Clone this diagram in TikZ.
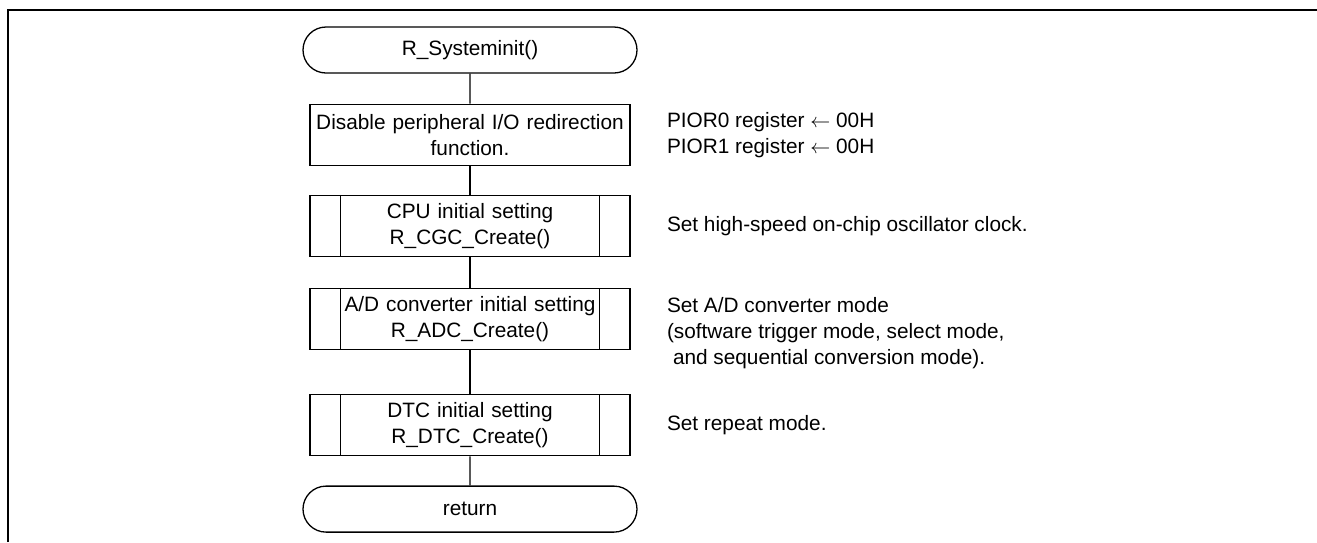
\documentclass[tikz,border=0pt]{standalone}
\usepackage{fontspec}
\setmainfont{Liberation Sans}
\usepackage{tikz}
\usetikzlibrary{calc}
\usetikzlibrary{positioning,shapes.misc}

\begin{document}
\begin{tikzpicture}[
    font=\fontsize{10.4pt}{13pt}\selectfont,
    node distance=15pt,
    term/.style={
      rounded rectangle,
      draw=black,
      line width=0.65pt,
      minimum width=167pt,
      minimum height=23pt,
      inner sep=0pt
    },
    proc/.style={
      rectangle,
      draw=black,
      line width=0.6pt,
      text width=160pt,
      align=center,
      minimum height=30.5pt,
      inner sep=0pt
    },
    note/.style={
      align=left,
      anchor=west,
      inner sep=0pt
    }
]

\useasboundingbox (0pt,0pt) rectangle (658.5pt,-271pt);

\node [term] (start) at (235pt,-25pt) {R\_Systeminit()};
\node [proc, below=of start] (pior) {Disable peripheral I/O redirection\\function.};
\node [proc, below=14.5pt of pior] (cpu) {CPU initial setting\\R\_CGC\_Create()};
\node [proc, below=15.5pt of cpu] (adc) {A/D converter initial setting\\R\_ADC\_Create()};
\node [proc, below=22pt of adc] (dtc) {DTC initial setting\\R\_DTC\_Create()};
\node [term, below=14.5pt of dtc] (ret) {return};

%% sub-process side bars
\foreach \n in {cpu,adc,dtc}{
  \draw [line width=0.6pt] ($(\n.north west)+(15.5pt,0)$) -- ($(\n.south west)+(15.5pt,0)$);
  \draw [line width=0.6pt] ($(\n.north east)+(-15.5pt,0)$) -- ($(\n.south east)+(-15.5pt,0)$);
}

%% Notes
\node [note, right=18pt of pior.east] (piornote) {PIOR0 register $\leftarrow$ 00H\\PIOR1 register $\leftarrow$ 00H};
\node [note, right=18pt of cpu.east] (cpunote) {Set high-speed on-chip oscillator clock.};
\node [note, right=18pt of adc.east, yshift=-7pt] (adcnote) {Set A/D converter mode\\(software trigger mode, select mode,\\\hspace{3pt}and sequential conversion mode).};
\node [note, right=18pt of dtc.east] (dtcnote) {Set repeat mode.};

%% Flow lines
\draw [line width=0.6pt] (start) -- (pior);
\draw [line width=0.6pt] (pior) -- (cpu);
\draw [line width=0.6pt] (cpu) -- (adc);
\draw [line width=0.6pt] (adc) -- (dtc);
\draw [line width=0.6pt] (dtc) -- (ret);

%% Frame
\draw [line width=1.1pt] (4pt,-271pt) -- (4pt,-5pt) -- (658.5pt,-5pt);

\end{tikzpicture}
\end{document}
